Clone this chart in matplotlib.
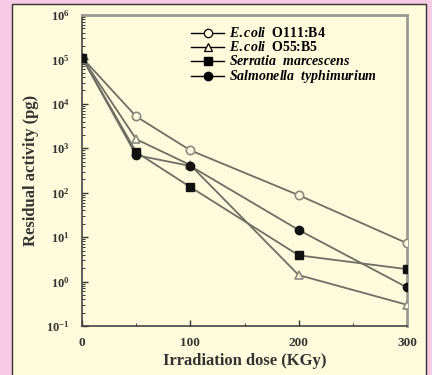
import numpy as np
import matplotlib.pyplot as plt
from matplotlib.patches import Rectangle
from matplotlib.ticker import LogLocator, LogFormatterMathtext, FixedLocator, NullFormatter

# Residual activity after irradiation
dose = [0, 50, 100, 200, 300]
ecoli_o111 = [1.1e5, 5.2e3, 9.0e2, 88, 7.3]
ecoli_o55 = [1.1e5, 1.6e3, 420, 1.4, 0.30]
serratia = [1.1e5, 820, 134, 3.9, 1.9]
salmonella = [1.1e5, 700, 400, 14.5, 0.74]

labels = [r'$\mathit{E.coli}$  O111:B4', r'$\mathit{E.coli}$  O55:B5',
          r'$\mathit{Serratia\ \ marcescens}$', r'$\mathit{Salmonella\ \ typhimurium}$']
x_ticks = [0, 100, 200, 300]

plt.rcParams['font.family'] = ['Liberation Serif', 'DejaVu Serif']
plt.rcParams['mathtext.fontset'] = 'custom'
plt.rcParams['mathtext.it'] = 'Liberation Serif:italic:bold'
plt.rcParams['mathtext.rm'] = 'Liberation Serif:bold'
plt.rcParams['mathtext.bf'] = 'Liberation Serif:bold'

fig = plt.figure(figsize=(4.32, 3.75), dpi=100)
fig.patch.set_facecolor('#f6cbe3')

# cream panel with a dark border
panel = Rectangle((12 / 432, -0.01), (426 - 12) / 432, (371 / 375) + 0.01,
                  transform=fig.transFigure, facecolor='#fefbdc',
                  edgecolor='#333333', linewidth=1.0, zorder=-5)
fig.patches.append(panel)

ax = fig.add_axes([82 / 432, 49 / 375, (407 - 82) / 432, (326 - 15) / 375])
ax.set_zorder(2)
ax.set_facecolor('#fefbdc')

line_col = '#6e6e66'
ax.plot(dose, ecoli_o111, '-', color=line_col, lw=1.3, zorder=2)
ax.plot(dose, ecoli_o55, '-', color=line_col, lw=1.3, zorder=2)
ax.plot(dose, serratia, '-', color=line_col, lw=1.3, zorder=2)
ax.plot(dose, salmonella, '-', color=line_col, lw=1.3, zorder=2)

ax.plot(dose, ecoli_o111, 'o', ms=6, mfc='#fefbdc', mec='#8a8a80', mew=1.2, ls='none', zorder=3)
ax.plot(dose, ecoli_o55, '^', ms=6, mfc='#fefbdc', mec='#8a8a80', mew=1.2, ls='none', zorder=3)
ax.plot(dose, serratia, 's', ms=6, color='#111111', ls='none', zorder=4)
ax.plot(dose, salmonella, 'o', ms=6, color='#111111', ls='none', zorder=4)

ax.set_yscale('log')
ax.set_ylim(1e-1, 1e6)
ax.set_xlim(0, 300)

ax.xaxis.set_major_locator(FixedLocator(x_ticks))
ax.xaxis.set_minor_locator(FixedLocator([50, 150, 250]))
ax.xaxis.set_minor_formatter(NullFormatter())
ax.yaxis.set_major_locator(LogLocator(base=10, numticks=10))
ax.yaxis.set_minor_locator(LogLocator(base=10, subs=np.arange(2, 10), numticks=10))
ax.yaxis.set_major_formatter(LogFormatterMathtext())
ax.yaxis.set_minor_formatter(NullFormatter())

ax.tick_params(which='both', direction='in', colors='#333333')
ax.tick_params(axis='y', labelsize=9, pad=9)
ax.tick_params(axis='x', labelsize=9.5, pad=8)
ax.tick_params(which='major', length=4, width=1)
ax.tick_params(which='minor', length=2, width=0.7)
for lab in ax.get_xticklabels() + ax.get_yticklabels():
    lab.set_fontweight('bold')
    lab.set_color('#333333')

for side in ['left', 'bottom']:
    ax.spines[side].set_color('#444444')
    ax.spines[side].set_linewidth(1.2)
for side in ['top', 'right']:
    ax.spines[side].set_color('#9a9a90')
    ax.spines[side].set_linewidth(2.0)

ax.set_xlabel('Irradiation dose (KGy)', fontsize=12, fontweight='bold', color='#333333', labelpad=3)
ax.set_ylabel('Residual activity (pg)', fontsize=12, fontweight='bold', color='#333333', labelpad=5)

# legend entries, black markers
handles = [
    ax.plot([], [], '-o', color='black', lw=1, ms=6, mfc='#fefbdc', mec='black', mew=0.9)[0],
    ax.plot([], [], '-^', color='black', lw=1, ms=6, mfc='#fefbdc', mec='black', mew=0.9)[0],
    ax.plot([], [], '-s', color='black', lw=1, ms=6)[0],
    ax.plot([], [], '-o', color='black', lw=1, ms=6)[0],
]
leg = ax.legend(handles, labels, loc='upper left', bbox_to_anchor=(0.31, 0.99),
                frameon=False, fontsize=10, handlelength=2.4, handletextpad=0.3,
                labelspacing=0.0, borderaxespad=0.2)
for t in leg.get_texts():
    t.set_fontweight('bold')

fig.savefig('out.png', dpi=100, facecolor=fig.get_facecolor())
